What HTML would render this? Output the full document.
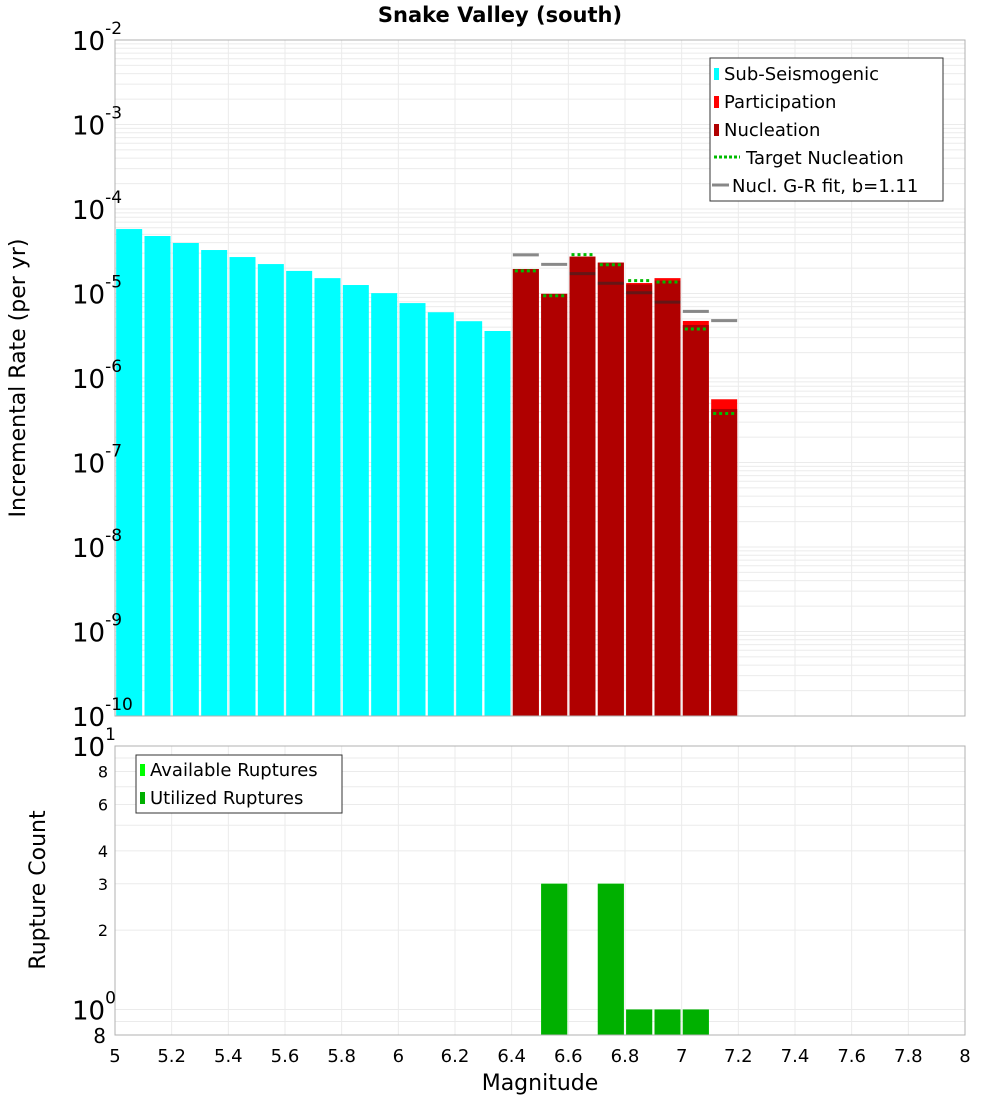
<!DOCTYPE html>
<html><head><meta charset="utf-8">
<style>
body{margin:0;background:#fff;}
svg{display:block;font-family:"DejaVu Sans","Liberation Sans",sans-serif;}
</style></head>
<body>
<svg id="chart" width="1000" height="1100" viewBox="0 0 1000 1100" xmlns="http://www.w3.org/2000/svg">
<rect width="1000" height="1100" fill="#fff"/>
<text x="500" y="22" text-anchor="middle" font-size="21" font-weight="bold">Snake Valley (south)</text>
<g id="grid"></g>
<g id="marks"></g>
<g id="axes"></g>
<text transform="translate(25,378) rotate(-90)" text-anchor="middle" font-size="22">Incremental Rate (per yr)</text>
<text transform="translate(45,890) rotate(-90)" text-anchor="middle" font-size="22">Rupture Count</text>
<text x="540" y="1090" text-anchor="middle" font-size="22">Magnitude</text>
<g>
<rect x="710" y="58" width="233" height="143" fill="#fff" stroke="#333" stroke-width="1"/>
<rect x="714" y="68" width="5" height="12" fill="#00ffff"/>
<text x="724" y="80" font-size="18">Sub-Seismogenic</text>
<rect x="714" y="96" width="5" height="12" fill="#ff0000"/>
<text x="724" y="108" font-size="18">Participation</text>
<rect x="714" y="124" width="5" height="12" fill="#b00000"/>
<text x="724" y="136" font-size="18">Nucleation</text>
<line x1="714" y1="157" x2="740" y2="157" stroke="#00bb00" stroke-width="3" stroke-dasharray="3,2"/>
<text x="746" y="164" font-size="18">Target Nucleation</text>
<line x1="712" y1="185" x2="729" y2="185" stroke="#888" stroke-width="3"/>
<text x="732" y="192" font-size="18">Nucl. G-R fit, b=1.11</text>
</g>
<g>
<rect x="136" y="755" width="206" height="58" fill="#fff" stroke="#333" stroke-width="1"/>
<rect x="140" y="764" width="5" height="12" fill="#00ff00"/>
<text x="150" y="776" font-size="18">Available Ruptures</text>
<rect x="140" y="792" width="5" height="12" fill="#00b000"/>
<text x="150" y="804" font-size="18">Utilized Ruptures</text>
</g>
</svg>
<script>
const subMags=[5.05,5.15,5.25,5.35,5.45,5.55,5.65,5.75,5.85,5.95,6.05,6.15,6.25,6.35];
const subRates=[5.79e-5,4.79e-5,3.96e-5,3.27e-5,2.70e-5,2.23e-5,1.85e-5,1.52e-5,1.26e-5,1.01e-5,7.7e-6,6.0e-6,4.7e-6,3.6e-6];
const faultMags=[6.45,6.55,6.65,6.75,6.85,6.95,7.05,7.15];
const partRates=[1.95e-5,9.9e-6,2.73e-5,2.32e-5,1.33e-5,1.52e-5,4.73e-6,5.6e-7];
const nuclRates=[1.95e-5,9.9e-6,2.73e-5,2.32e-5,1.28e-5,1.42e-5,4.24e-6,4.3e-7];
const targetRates=[1.85e-5,9.4e-6,2.88e-5,2.19e-5,1.42e-5,1.37e-5,3.8e-6,3.8e-7];
const grRates=[2.86e-5,2.21e-5,1.72e-5,1.32e-5,1.02e-5,7.9e-6,6.15e-6,4.77e-6];
const countMags=[6.55,6.75,6.85,6.95,7.05];
const availCounts=[3,3,1,1,1];
const usedCounts=[3,3,1,1,1];
const xTicks=[5,5.2,5.4,5.6,5.8,6,6.2,6.4,6.6,6.8,7,7.2,7.4,7.6,7.8,8];
const yDecades=[-2,-3,-4,-5,-6,-7,-8,-9,-10];
const countTicks=[1,2,3,4,6,8,10];

const NS="http://www.w3.org/2000/svg";
const L=115,R=965,T1=40,B1=716,T2=746,B2=1035;
const xs=m=>L+(m-5)/(8-5)*(R-L);
const y1=v=>T1+(-2-Math.log10(v))/8*(B1-T1);
const cMin=0.8,cMax=10;
const y2=v=>B2-(Math.log10(v)-Math.log10(cMin))/(Math.log10(cMax)-Math.log10(cMin))*(B2-T2);
function mk(tag,attrs,parent){const e=document.createElementNS(NS,tag);for(const k in attrs)e.setAttribute(k,attrs[k]);parent.appendChild(e);return e;}
const grid=document.getElementById('grid'),marks=document.getElementById('marks'),axes=document.getElementById('axes');

// grids
for(const t of xTicks){
  const gx=mk('line',{x1:xs(t),x2:xs(t),y1:T1,y2:B1,stroke:'#ebebeb'},grid);
  
  
  const gx2=mk('line',{x1:xs(t),x2:xs(t),y1:T2,y2:B2,stroke:'#ebebeb'},grid);
  
  
}
for(let d=-10;d<-2;d++){for(let k=1;k<10;k++){
  const v=k*Math.pow(10,d);
  const g=mk('line',{x1:L,x2:R,y1:y1(v),y2:y1(v),stroke:'#ebebeb'},grid);
  
  
}}
for(const c of [0.8,0.9,1,2,3,4,5,6,7,8,9,10]){
  const g=mk('line',{x1:L,x2:R,y1:y2(c),y2:y2(c),stroke:'#ebebeb'},grid);
  
  
}
// bars
const bw=26;
subMags.forEach((m,i)=>{
  const r=mk('rect',{x:xs(m)-bw/2,y:y1(subRates[i]),width:bw,height:B1-y1(subRates[i]),fill:'#00ffff'},marks);
  
  
});
faultMags.forEach((m,i)=>{
  const p=mk('rect',{x:xs(m)-bw/2,y:y1(partRates[i]),width:bw,height:B1-y1(partRates[i]),fill:'#ff0000'},marks);
  
  
  const n=mk('rect',{x:xs(m)-bw/2,y:y1(nuclRates[i]),width:bw,height:B1-y1(nuclRates[i]),fill:'#b00000'},marks);
  
  
});
faultMags.forEach((m,i)=>{
  const g=mk('line',{x1:xs(m)-bw/2,x2:xs(m)+bw/2,y1:y1(grRates[i]),y2:y1(grRates[i]),stroke:'rgba(40,40,40,0.55)','stroke-width':3},marks);
  
  
  const t=mk('line',{x1:xs(m)-bw/2+2,x2:xs(m)+bw/2,y1:y1(targetRates[i]),y2:y1(targetRates[i]),stroke:'#00bb00','stroke-width':3,'stroke-dasharray':'3,3'},marks);
  
  
});
countMags.forEach((m,i)=>{
  const a=mk('rect',{x:xs(m)-bw/2,y:y2(availCounts[i]),width:bw,height:B2-y2(availCounts[i]),fill:'#00ff00'},marks);
  
  
  const u=mk('rect',{x:xs(m)-bw/2,y:y2(usedCounts[i]),width:bw,height:B2-y2(usedCounts[i]),fill:'#00b000'},marks);
  
  
});
// frames
const f1=mk('rect',{x:L,y:T1,width:R-L,height:B1-T1,fill:'none',stroke:'#b0b0b0'},axes);


const f2=mk('rect',{x:L,y:T2,width:R-L,height:B2-T2,fill:'none',stroke:'#b0b0b0'},axes);


// x tick labels
for(const t of xTicks){
  const tx=mk('text',{x:xs(t),y:1062,'text-anchor':'middle','font-size':18},axes);
  tx.textContent=String(Math.round(t*10)/10);
  
  
}
// y decade labels top
for(const d of yDecades){
  const yy=y1(Math.pow(10,d));
  const tx=mk('text',{x:72,y:yy+10,'font-size':26},axes);
  
  
  tx.textContent='10';
  const sp=mk('tspan',{dy:-16,'font-size':17},tx);
  sp.textContent=String(d);
}
// bottom count labels
for(const c of countTicks){
  const yy=y2(c);
  if(c===1||c===10){
    const tx=mk('text',{x:c===10?72:72,y:yy+10,'font-size':26},axes);
    
    
    tx.textContent='10';
    const sp=mk('tspan',{dy:-16,'font-size':17},tx);
    sp.textContent=c===10?'1':'0';
  } else {
    const tx=mk('text',{x:108,y:yy+6,'text-anchor':'end','font-size':16},axes);
    
    
    tx.textContent=String(c);
  }
}
const b8=mk('text',{x:106,y:1043,'text-anchor':'end','font-size':20},axes);


b8.textContent='8';
</script>
</body></html>
